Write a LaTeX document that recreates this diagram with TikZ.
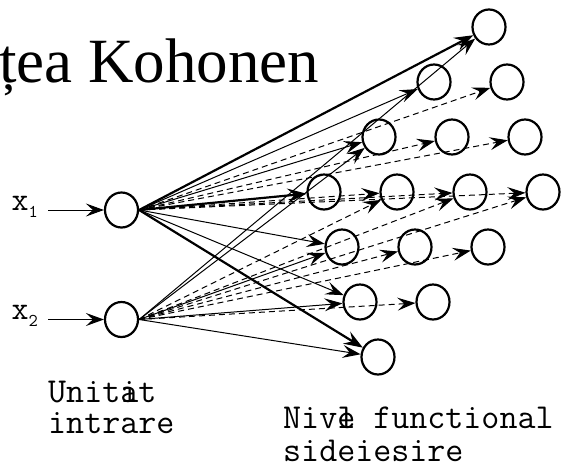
\documentclass[tikz,border=0pt]{standalone}
\usepackage{fontspec}
\newfontfamily\titlefont{Liberation Serif}
\usetikzlibrary{arrows.meta,shapes.geometric}
\begin{document}
\begin{tikzpicture}[x=1pt,y=-1pt,
  unit/.style={ellipse,draw,line width=2.2pt,minimum width=33pt,minimum height=35pt,inner sep=0pt},
  link/.style={line width=1pt,-{Stealth[length=18pt,width=13pt,inset=7pt]}},
  heavy/.style={line width=2.2pt,-{Stealth[length=19pt,width=14pt,inset=7pt]}},
  hidden/.style={link,dash pattern=on 6pt off 4pt},
  caption/.style={font=\fontsize{35}{31}\selectfont\ttfamily,inner sep=0pt,anchor=base west},
  inlabel/.style={font=\fontsize{33}{33}\selectfont\ttfamily,inner sep=0pt,anchor=base west}
]
\useasboundingbox (0,0) rectangle (561,468);

% title
\node[font=\titlefont\fontsize{63}{63}\selectfont,inner sep=0pt,anchor=base west] (title) at (-1,83) {țea Kohonen};

% input units
\node[unit] (in1) at (121.5,210) {};
\node[unit] (in2) at (121.5,319.5) {};
\coordinate (s1) at (48,210);
\coordinate (s2) at (48,319.5);
\draw[link] (s1) -- (in1);
\draw[link] (s2) -- (in2);
\node[inlabel] (x1) at (11.5,210) {x\raisebox{-7pt}{\fontsize{18}{18}\selectfont 1}};
\node[inlabel] (x2) at (11.5,319.5) {x\raisebox{-7pt}{\fontsize{18}{18}\selectfont 2}};

% output lattice (4 x 4, skewed)
\foreach \i in {0,...,3}
  \foreach \j in {0,...,3}
    \node[unit] (o-\i-\j) at ({489-55*\i+18*\j},{27+55*\i+55*\j}) {};

% hidden (interior) connections
\foreach \i/\j in {0/1,1/1,0/2,2/1,1/2,0/3}
  \draw[hidden] (in1.east) -- (o-\i-\j);
\foreach \i/\j in {2/1,1/2,0/3,2/2,1/3,2/3}
  \draw[hidden] (in2.east) -- (o-\i-\j);

% visible (border) connections
\foreach \i/\j in {1/0,2/0,3/1,3/2}
  \draw[link] (in1.east) -- (o-\i-\j);
\foreach \i/\j in {0/0,3/0,3/3}
  \draw[heavy] (in1.east) -- (o-\i-\j);
\foreach \i/\j in {0/0,2/0,3/1,3/2,3/3}
  \draw[link] (in2.east) -- (o-\i-\j);

% captions
\node[caption] (c1) at (48,402) {Unit\rlap{a}it};
\node[caption] (c2) at (48,433) {intrare};
\node[caption] (c3) at (283,428) {Niv\rlap{e}l functional};
\node[caption] (c4) at (283,461) {sideiesire};
\end{tikzpicture}
\end{document}
